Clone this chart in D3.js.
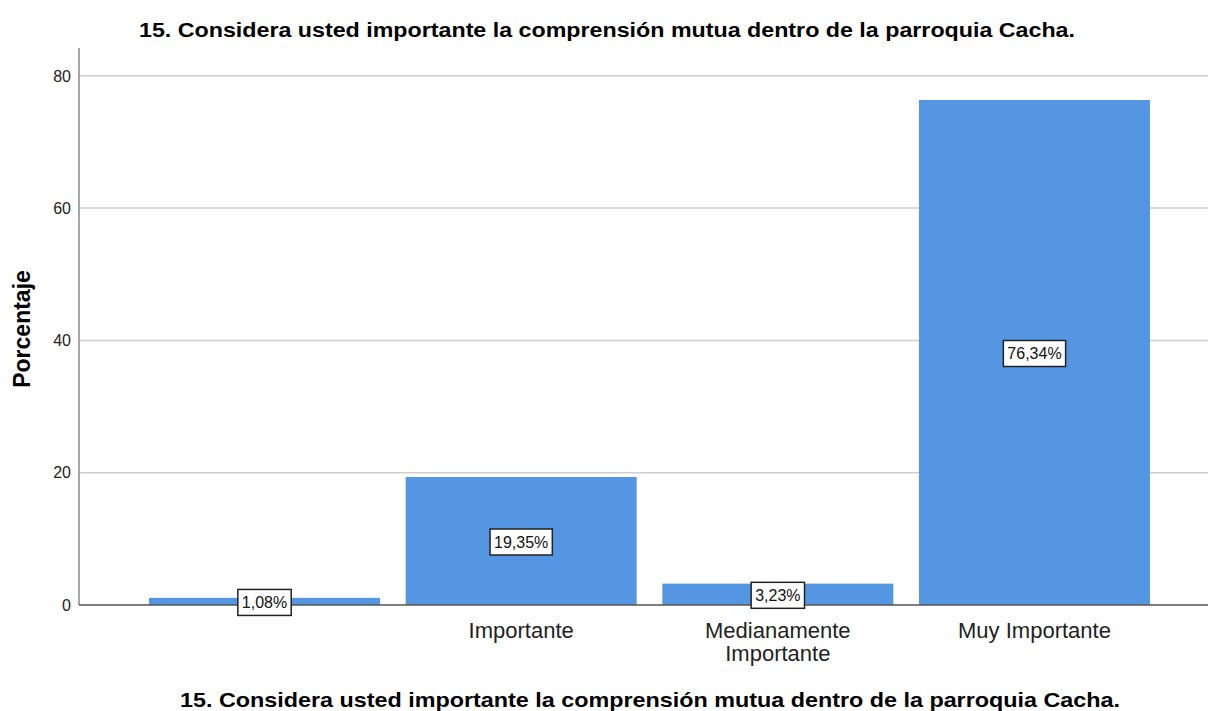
<!DOCTYPE html>
<html>
<head>
<meta charset="utf-8">
<script src="https://cdn.jsdelivr.net/npm/d3@7"></script>
<style>
  html, body { margin: 0; padding: 0; background: #fff; }
  svg { display: block; font-family: "Liberation Sans", Arial, sans-serif; }
</style>
</head>
<body>
<svg id="chart" width="1208" height="711"></svg>
<script>
const chartTitle = "15. Considera usted importante la comprensión mutua dentro de la parroquia Cacha.";
const xAxisTitle = "15. Considera usted importante la comprensión mutua dentro de la parroquia Cacha.";
const yAxisTitle = "Porcentaje";
const categories = ["", "Importante", "Medianamente Importante", "Muy Importante"];
const categoryLines = [[""], ["Importante"], ["Medianamente", "Importante"], ["Muy Importante"]];
const values = [1.08, 19.35, 3.23, 76.34];
const valueLabels = ["1,08%", "19,35%", "3,23%", "76,34%"];
const yTicks = [0, 20, 40, 60, 80];

const svg = d3.select("#chart");
const plot = { left: 79, right: 1208, top: 48, bottom: 605 };

const y = d3.scaleLinear().domain([0, 84.2]).range([plot.bottom, plot.top]);
const x = d3.scaleBand().domain(categories).range([136.2, 1162.8])
  .paddingInner(0.1).paddingOuter(0.05);

// gridlines
svg.append("g").selectAll("line").data(yTicks.filter(d => d > 0)).join("line")
  .attr("x1", plot.left).attr("x2", plot.right)
  .attr("y1", d => y(d)).attr("y2", d => y(d))
  .attr("stroke", "#cfcfcf").attr("stroke-width", 1.5);

// y tick labels
svg.append("g").selectAll("text").data(yTicks).join("text")
  .attr("x", 71).attr("y", d => y(d)).attr("dy", "0.36em")
  .attr("text-anchor", "end").attr("font-size", 16).attr("fill", "#222")
  .text(d => d);

// bars
svg.append("g").selectAll("rect").data(values).join("rect")
  .attr("x", (d, i) => x(categories[i]))
  .attr("width", x.bandwidth())
  .attr("y", d => y(d))
  .attr("height", d => y(0) - y(d))
  .attr("fill", "#5596e3");

// axes lines
svg.append("line").attr("x1", plot.left).attr("x2", plot.left)
  .attr("y1", plot.top).attr("y2", plot.bottom)
  .attr("stroke", "#8a8a8a").attr("stroke-width", 1.5);
svg.append("line").attr("x1", plot.left).attr("x2", plot.right)
  .attr("y1", y(0)).attr("y2", y(0))
  .attr("stroke", "#555").attr("stroke-width", 1.5);

// value labels
const lab = svg.append("g").selectAll("g").data(values).join("g")
  .attr("transform", (d, i) => `translate(${x(categories[i]) + x.bandwidth() / 2},${(y(d) + y(0)) / 2 + 1})`);
lab.append("text")
  .attr("text-anchor", "middle").attr("dy", "0.36em")
  .attr("font-size", 16).attr("fill", "#111")
  .text((d, i) => valueLabels[i]);
lab.each(function () {
  const g = d3.select(this);
  const bb = g.select("text").node().getBBox();
  g.insert("rect", "text")
    .attr("x", bb.x - 4).attr("y", -13)
    .attr("width", bb.width + 8).attr("height", 26)
    .attr("fill", "#fff").attr("stroke", "#222").attr("stroke-width", 1.5);
});

// category labels
const cl = svg.append("g").selectAll("text").data(categories).join("text")
  .attr("x", d => x(d) + x.bandwidth() / 2)
  .attr("y", 638)
  .attr("text-anchor", "middle").attr("font-size", 22).attr("fill", "#222");
cl.each(function (d, i) {
  const t = d3.select(this);
  categoryLines[i].forEach((line, j) => {
    t.append("tspan").attr("x", x(d) + x.bandwidth() / 2)
      .attr("dy", j === 0 ? 0 : 23).text(line);
  });
});

// titles
svg.append("text").attr("x", 139).attr("y", 37)
  .attr("font-size", 20).attr("font-weight", "bold").attr("fill", "#000")
  .attr("textLength", 936).attr("lengthAdjust", "spacingAndGlyphs")
  .text(chartTitle);
svg.append("text").attr("x", 180).attr("y", 707)
  .attr("font-size", 21).attr("font-weight", "bold").attr("fill", "#000")
  .attr("textLength", 940).attr("lengthAdjust", "spacingAndGlyphs")
  .text(xAxisTitle);
svg.append("text")
  .attr("transform", "translate(30,329) rotate(-90)")
  .attr("text-anchor", "middle")
  .attr("font-size", 23).attr("font-weight", "bold").attr("fill", "#000")
  .text(yAxisTitle);
</script>
</body>
</html>
